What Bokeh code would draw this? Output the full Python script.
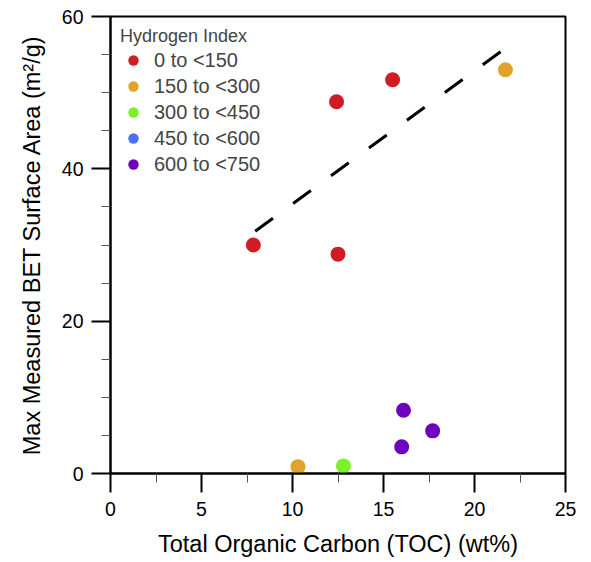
from bokeh.plotting import figure
from bokeh.models import Legend, LegendItem, FixedTicker, ColumnDataSource
from bokeh.embed import file_html
from bokeh.resources import INLINE

# Data
categories = ["0 to <150", "150 to <300", "300 to <450", "450 to <600", "600 to <750"]
colors = ["#D01C22", "#E0A22A", "#7CF02A", "#4A72F5", "#6E00C0"]

toc_red = [7.85, 12.42, 12.5, 15.5]
bet_red = [30.0, 48.8, 28.8, 51.7]
toc_orange = [21.7, 10.3]
bet_orange = [53.0, 0.9]
toc_green = [12.8]
bet_green = [1.0]
toc_blue = [float("nan")]   # no samples in this class (legend entry only)
bet_blue = [float("nan")]
toc_purple = [16.1, 16.0, 17.7]
bet_purple = [8.3, 3.5, 5.6]

trend_x = [7.95, 21.45]
trend_y = [31.8, 55.4]

x_ticks = [0, 5, 10, 15, 20, 25]
x_minor = [2.5, 7.5, 12.5, 17.5, 22.5]
y_ticks = [0, 20, 40, 60]
y_minor = [5, 10, 15, 25, 30, 35, 45, 50, 55]

FONT = "Liberation Sans"

p = figure(width=580, height=558, frame_width=455, frame_height=457,
           x_range=(0, 25), y_range=(0, 60),
           output_backend="svg", toolbar_location=None,
           min_border_left=110, min_border_top=16, min_border_right=15, min_border_bottom=85)

p.grid.visible = False
p.outline_line_color = "black"
p.outline_line_width = 2
p.background_fill_color = "white"
p.border_fill_color = "white"

p.xaxis.ticker = FixedTicker(ticks=x_ticks, minor_ticks=x_minor)
p.yaxis.ticker = FixedTicker(ticks=y_ticks, minor_ticks=y_minor)

for ax in (p.xaxis, p.yaxis):
    ax.axis_line_width = 2
    ax.axis_line_color = "black"
    ax.major_tick_line_width = 2
    ax.minor_tick_line_width = 1
    ax.major_tick_line_color = "black"
    ax.minor_tick_line_color = "#555555"
    ax.major_tick_out = 19
    ax.major_tick_in = 0
    ax.minor_tick_out = 9
    ax.minor_tick_in = 0
    ax.major_label_text_font = FONT
    ax.major_label_text_font_size = "19.5px"
    ax.major_label_text_color = "black"
    ax.axis_label_text_font = FONT
    ax.axis_label_text_font_size = "23.5px"
    ax.axis_label_text_font_style = "normal"
    ax.axis_label_text_color = "black"

p.xaxis.major_label_standoff = 9
p.yaxis.major_label_standoff = 8
p.xaxis.axis_label = "Total Organic Carbon (TOC) (wt%)"
p.yaxis.axis_label = "Max Measured BET Surface Area (m²/g)"
p.xaxis.axis_label_standoff = 12
p.yaxis.axis_label_standoff = 14

p.line(trend_x, trend_y, line_color="black", line_width=3, line_dash="22 25")

series = [(toc_red, bet_red), (toc_orange, bet_orange), (toc_green, bet_green),
          (toc_blue, bet_blue), (toc_purple, bet_purple)]
items = []
for (xs, ys), col, lab in zip(series, colors, categories):
    src = ColumnDataSource(data=dict(x=xs, y=ys))
    r = p.scatter("x", "y", source=src, size=15, fill_color=col, line_color=None)
    items.append(LegendItem(label=lab, renderers=[r]))

legend = Legend(items=items, location="top_left", title="Hydrogen Index",
                title_text_font=FONT, title_text_font_size="18px", title_text_font_style="normal",
                label_text_font=FONT, label_text_font_size="20px",
                border_line_color=None, background_fill_alpha=0,
                glyph_width=26, glyph_height=26, label_height=26,
                spacing=0, padding=5, margin=10, label_standoff=8, title_standoff=0)
p.add_layout(legend)

open("out.html", "w").write(file_html(p, INLINE))
